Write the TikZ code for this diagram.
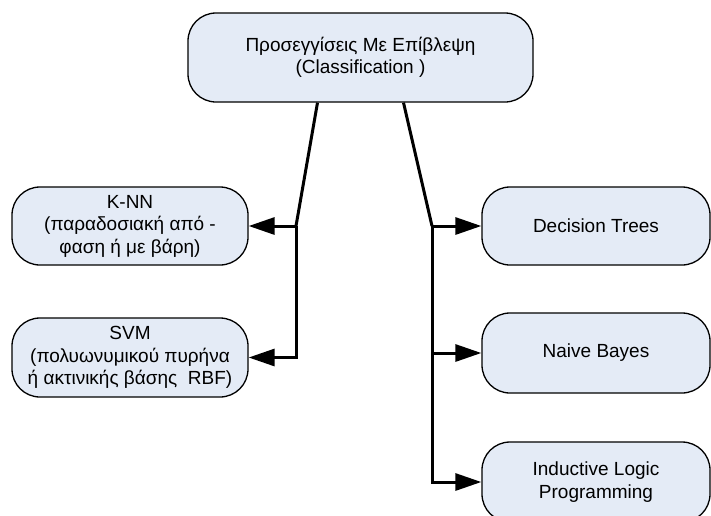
\documentclass[tikz,border=0pt]{standalone}
\usepackage{fontspec}
\setmainfont{Liberation Sans}
\usepackage{xcolor}
\usetikzlibrary{arrows.meta,positioning}
\definecolor{boxfill}{HTML}{E4EBF6}

\begin{document}
\begin{tikzpicture}[
  x=1pt, y=-1pt,
  box/.style={draw=black, line width=1.3pt, fill=boxfill, rounded corners=28pt,
    align=center, inner sep=0pt, font=\fontsize{19}{22.5}\selectfont},
  link/.style={line width=3pt, black},
  arr/.style={link, -{Triangle[length=26pt,width=17pt]}}
]
\clip (0,0) rectangle (711,515);

\node[box, minimum width=345pt, minimum height=89pt] (top) at (360.5,57.5)
  {Προσεγγίσεις Με Επίβλεψη\\(Classification )};

\node[box, minimum width=236pt, minimum height=78pt] (knn) at (130,226)
  {K-NN\\(παραδοσιακή από -\\φαση ή με βάρη)};
\node[box, minimum width=236pt, minimum height=79pt] (svm) at (130,357.5)
  {SVM\\(πολυωνυμικού πυρήνα\\ή ακτινικής βάσης\ \ RBF)};

\node[box, minimum width=228pt, minimum height=78pt] (dt) at (596,226) {Decision Trees};
\node[box, minimum width=228pt, minimum height=80pt] (nb) at (596,353) {Naive Bayes};
\node[box, minimum width=228pt, minimum height=80pt] (ilp) at (596,482)
  {Inductive Logic\\Programming};

\coordinate (lj) at (296,226);
\coordinate (rj) at (432,226);

\draw[link] ([xshift=-43pt]top.south) -- (lj);
\draw[arr] (lj) -- (knn.east);
\draw[arr] (lj) |- (svm.east);

\draw[link] ([xshift=43pt]top.south) -- (rj);
\draw[arr] (rj) -- (dt.west);
\draw[arr] (rj) |- (nb.west);
\draw[arr] (rj) |- (ilp.west);
\end{tikzpicture}
\end{document}
